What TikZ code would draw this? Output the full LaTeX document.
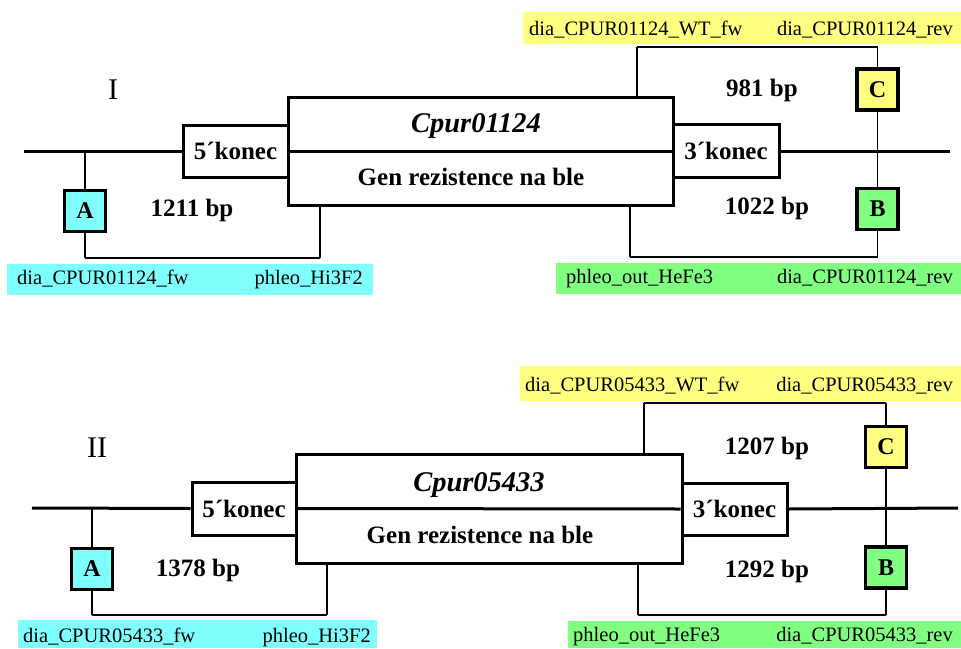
\documentclass[tikz,border=0pt]{standalone}
\usepackage{fontspec}
\setmainfont{Liberation Serif}
\definecolor{cy}{HTML}{80FFFF}
\definecolor{ye}{HTML}{FFFF80}
\definecolor{gr}{HTML}{80FF80}
\begin{document}
\begin{tikzpicture}[x=1pt,y=-1pt,
 dna/.style={line width=3pt},
 boxx/.style={draw,line width=3pt,fill=white,inner sep=0pt,font=\bfseries\fontsize{25}{30}\selectfont},
 primer/.style={draw,line width=3.5pt,inner sep=0pt,minimum width=41pt,minimum height=41pt,font=\bfseries\fontsize{24}{28}\selectfont},
 bar/.style={inner sep=0pt},
 small/.style={inner sep=0pt,font=\fontsize{20.5}{24}\selectfont},
 bp/.style={inner sep=0pt,font=\bfseries\fontsize{25}{30}\selectfont},
 gname/.style={inner sep=0pt,anchor=base,font=\bfseries\itshape\fontsize{28.5}{34}\selectfont},
 roman/.style={inner sep=0pt,font=\fontsize{30}{36}\selectfont},
 vline/.style={line width=1.4pt},
 hline/.style={line width=2.2pt},
]
\useasboundingbox (0,0) rectangle (961,648);

% ================= Diagram I =================
\node[bar,fill=cy,minimum width=366pt,minimum height=31pt] (cbar1) at (190,279.5) {};
\node[small,anchor=base west] (c1l) at (17,284.5) {dia\_CPUR01124\_fw};
\node[small,anchor=base east] (c1r) at (363,284.5) {phleo\_Hi3F2};
\node[bar,fill=ye,minimum width=438pt,minimum height=32pt] (ybar1) at (742,28) {};
\node[small,anchor=base west] (y1l) at (529,35.6) {dia\_CPUR01124\_WT\_fw};
\node[small,anchor=base east] (y1r) at (953,35.6) {dia\_CPUR01124\_rev};
\node[bar,fill=gr,minimum width=405pt,minimum height=31pt] (gbar1) at (758.5,278.5) {};
\node[small,anchor=base west] (g1l) at (566,283.6) {phleo\_out\_HeFe3};
\node[small,anchor=base east] (g1r) at (953,283.6) {dia\_CPUR01124\_rev};

\coordinate (L1) at (24,151);
\coordinate (R1) at (950,151);
\node[boxx,minimum width=385pt,minimum height=108pt] (gene1) at (480.5,151) {};
\node[boxx,minimum width=105pt,minimum height=52pt] (five1) at (235.5,151) {5´konec};
\node[boxx,minimum width=106pt,minimum height=53pt] (three1) at (726,151) {3´konec};
\node[gname] (cp1) at (476,132.5) {Cpur01124};
\node[bp] (gen1) at (471,177) {Gen rezistence na ble};

\draw[dna] (L1) -- (five1.west);
\draw[dna] (five1.east) -- (three1.west);
\draw[dna] (three1.east) -- (R1);

\node[primer,fill=cy] (A1) at (85,211) {A};
\node[primer,fill=ye] (C1) at (877.5,89.5) {C};
\node[primer,fill=gr] (B1) at (877.5,209) {B};

\coordinate (a1b) at (85,258);
\coordinate (g1b) at (320,258);
\draw[vline] (A1.north) -- (A1.north |- L1);
\draw[vline] (A1.south) -- (a1b);
\draw[hline] (a1b) -- (g1b);
\draw[vline] (g1b) -- (g1b |- gene1.south);

\coordinate (w1a) at (637,47);
\coordinate (w1b) at (877.5,47);
\draw[vline] (w1a |- gene1.north) -- (w1a);
\draw[hline] (w1a) -- (w1b);
\draw[vline] (w1b) -- (C1.north);
\draw[vline] (C1.south) -- (B1.north);

\coordinate (b1a) at (877.5,257);
\coordinate (b1b) at (630,257);
\draw[vline] (B1.south) -- (b1a);
\draw[hline] (b1a) -- (b1b);
\draw[vline] (b1b) -- (b1b |- gene1.south);

\node[bp] (bp1a) at (192,210) {1211 bp};
\node[bp] (bp1b) at (762,90) {981 bp};
\node[bp] (bp1c) at (767,208) {1022 bp};
\node[roman] (rI) at (113,90) {I};

% ================= Diagram II =================
\node[bar,fill=cy,minimum width=359pt,minimum height=28pt] (cbar2) at (197.5,634) {};
\node[small,anchor=base west] (c2l) at (23,642.6) {dia\_CPUR05433\_fw};
\node[small,anchor=base east] (c2r) at (371,642.6) {phleo\_Hi3F2};
\node[bar,fill=ye,minimum width=441pt,minimum height=35pt] (ybar2) at (740.5,383.5) {};
\node[small,anchor=base west] (y2l) at (525,391.6) {dia\_CPUR05433\_WT\_fw};
\node[small,anchor=base east] (y2r) at (953,391.6) {dia\_CPUR05433\_rev};
\node[bar,fill=gr,minimum width=393pt,minimum height=27pt] (gbar2) at (764.5,634.5) {};
\node[small,anchor=base west] (g2l) at (573,641.6) {phleo\_out\_HeFe3};
\node[small,anchor=base east] (g2r) at (953,641.6) {dia\_CPUR05433\_rev};

\coordinate (L2) at (32,508);
\coordinate (R2) at (958,508);
\node[boxx,minimum width=386pt,minimum height=109pt] (gene2) at (489,508.5) {};
\node[boxx,minimum width=104pt,minimum height=53pt] (five2) at (244,508.5) {5´konec};
\node[boxx,minimum width=105pt,minimum height=52pt] (three2) at (734.5,509) {3´konec};
\node[gname] (cp2) at (479,491.5) {Cpur05433};
\node[bp] (gen2) at (480,535) {Gen rezistence na ble};

\draw[dna] (L2) -- (five2.west);
\draw[dna] (five2.east) -- (three2.west);
\draw[dna] (three2.east) -- (R2);

\node[primer,fill=cy] (A2) at (92,569) {A};
\node[primer,fill=ye] (C2) at (886,447) {C};
\node[primer,fill=gr] (B2) at (886,567.5) {B};

\coordinate (a2b) at (92,615);
\coordinate (g2b) at (327,615);
\draw[vline] (A2.north) -- (A2.north |- L2);
\draw[vline] (A2.south) -- (a2b);
\draw[hline] (a2b) -- (g2b);
\draw[vline] (g2b) -- (g2b |- gene2.south);

\coordinate (w2a) at (644,403);
\coordinate (w2b) at (886,403);
\draw[vline] (w2a |- gene2.north) -- (w2a);
\draw[hline] (w2a) -- (w2b);
\draw[vline] (w2b) -- (C2.north);
\draw[vline] (C2.south) -- (B2.north);

\coordinate (b2a) at (886,615);
\coordinate (b2b) at (638,615);
\draw[vline] (B2.south) -- (b2a);
\draw[hline] (b2a) -- (b2b);
\draw[vline] (b2b) -- (b2b |- gene2.south);

\node[bp] (bp2a) at (198,570) {1378 bp};
\node[bp] (bp2b) at (767,448) {1207 bp};
\node[bp] (bp2c) at (767,571) {1292 bp};
\node[roman] (rII) at (97,448) {II};
\end{tikzpicture}
\end{document}
